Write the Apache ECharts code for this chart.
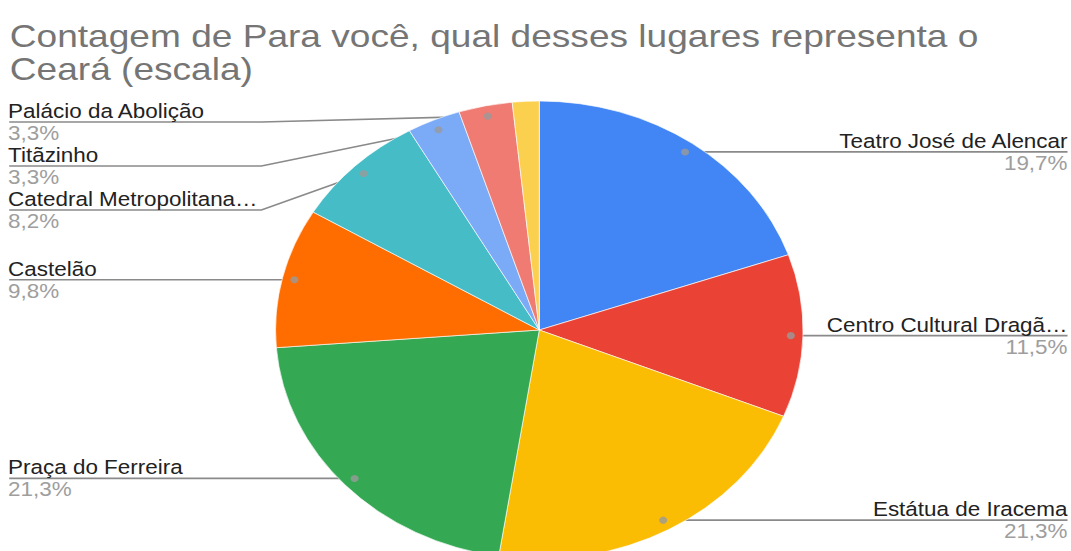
<!DOCTYPE html>
<html>
<head>
<meta charset="utf-8">
<script src="https://cdn.jsdelivr.net/npm/echarts@6/dist/echarts.min.js"></script>
<style>
  html, body { margin: 0; padding: 0; background: #fff; }
  #wrap { width: 1071px; height: 551px; overflow: hidden; position: relative; }
  #chart { width: 930px; height: 551px; transform: scaleX(1.1516); transform-origin: 0 0; }
</style>
</head>
<body>
<div id="wrap"><div id="chart"></div></div>
<script>
const titleLines = ['Contagem de Para você, qual desses lugares representa o', 'Ceará (escala)'];
const categories = ['Teatro José de Alencar', 'Centro Cultural Dragão do Mar', 'Estátua de Iracema', 'Praça do Ferreira', 'Castelão', 'Catedral Metropolitana de Fortaleza', 'Titãzinho', 'Palácio da Abolição', 'Outros'];
const counts = [12, 7, 13, 13, 6, 5, 2, 2, 1];
const colors = ['#4285f4', '#ea4335', '#fbbc04', '#34a853', '#ff6d01', '#46bdc6', '#7baaf7', '#f07b72', '#fcd04f'];

const total = counts.reduce((a, b) => a + b, 0);
const pct = v => (v / total * 100).toFixed(1).replace('.', ',') + '%';
const showLabel = counts.map(v => v / total >= 0.02);

const FONT = "'Liberation Sans', Arial, sans-serif";
const PIE_R = 229;
const DOT_R = 218.5;
const LABEL_W = 218.5;
const CX = 468.3, CY = 330, SERIES_LEFT = 4, LABEL_TOP = 100;
const EDGE = 3;
const ELBOW = 220;
const TITLE_TOP = 20, TITLE_LH = 32.3;

const cum = [];
counts.reduce((acc, v, i) => { cum.push(acc + v / 2); return acc + v; }, 0);
// slices in the crowded upper-left sector get their own label group (bounded below the title)
const upperGroup = cum.map(a => a / total > 0.85);

function labelSeries(inGroup, top) {
  return {
    type: 'pie',
    silent: true,
    left: SERIES_LEFT, right: 0, top: top, bottom: 0,
    center: [CX - SERIES_LEFT, CY - top],
    radius: DOT_R,
    startAngle: 90,
    clockwise: true,
    itemStyle: { color: 'rgba(0,0,0,0)', borderWidth: 0 },
    label: {
      show: true,
      position: 'outside',
      alignTo: 'edge',
      edgeDistance: EDGE,
      width: LABEL_W,
      overflow: 'truncate',
      ellipsis: '…',
      fontFamily: FONT,
      formatter: p => '{n|' + p.name + '}\n{p|' + pct(p.value) + '}',
      rich: {
        n: { fontFamily: FONT, fontSize: 19.5, lineHeight: 22, color: '#222222' },
        p: { fontFamily: FONT, fontSize: 19.5, lineHeight: 22, color: '#9e9e9e' }
      }
    },
    labelLine: {
      show: true, length: 0, length2: 10, minTurnAngle: 0, maxSurfaceAngle: 180,
      lineStyle: { color: '#8a8a8a', width: 1.6 }
    },
    labelLayout: params => {
      const pts = params.labelLinePoints;
      if (!pts) return {};
      const r = params.labelRect;
      const y = r.y + r.height / 2;
      const isLeft = r.x + r.width / 2 < CX;
      if (isLeft) {
        return { labelLinePoints: [pts[0], [r.x + ELBOW, y], [r.x + 1, y]] };
      }
      return { labelLinePoints: [pts[0], [pts[0][0], y], [r.x + r.width, y]] };
    },
    data: categories.map((c, i) => {
      const vis = showLabel[i] && upperGroup[i] === inGroup;
      return { name: c, value: counts[i], label: { show: vis }, labelLine: { show: vis } };
    })
  };
}

const chart = echarts.init(document.getElementById('chart'), null, { renderer: 'svg' });
chart.setOption({
  animation: false,
  backgroundColor: '#fff',
  title: titleLines.map((t, i) => ({
    text: t,
    left: 8.5,
    top: TITLE_TOP + i * TITLE_LH,
    padding: 0,
    textStyle: { fontFamily: FONT, fontSize: 32.2, lineHeight: TITLE_LH, fontWeight: 'normal', color: '#757575' }
  })),
  polar: { center: [CX, CY], radius: PIE_R },
  angleAxis: {
    type: 'value', min: 0, max: total, startAngle: 90, clockwise: true,
    axisLine: { show: false }, axisTick: { show: false }, axisLabel: { show: false }, splitLine: { show: false }
  },
  radiusAxis: {
    type: 'value', min: 0, max: PIE_R,
    axisLine: { show: false }, axisTick: { show: false }, axisLabel: { show: false }, splitLine: { show: false }
  },
  series: [
    {
      type: 'pie',
      silent: true,
      left: SERIES_LEFT, right: 0, top: 0, bottom: 0,
      center: [CX - SERIES_LEFT, CY],
      radius: PIE_R,
      startAngle: 90,
      clockwise: true,
      label: { show: false },
      labelLine: { show: false },
      itemStyle: { borderColor: '#fff', borderWidth: 0.6 },
      data: categories.map((c, i) => ({ name: c, value: counts[i], itemStyle: { color: colors[i] } }))
    },
    labelSeries(false, 0),
    labelSeries(true, LABEL_TOP),
    {
      type: 'scatter',
      coordinateSystem: 'polar',
      silent: true,
      symbol: 'circle',
      symbolSize: 7,
      itemStyle: { color: '#9a9a9a' },
      data: cum.map((a, i) => [DOT_R, a]).filter((d, i) => showLabel[i])
    }
  ]
});
</script>
</body>
</html>
